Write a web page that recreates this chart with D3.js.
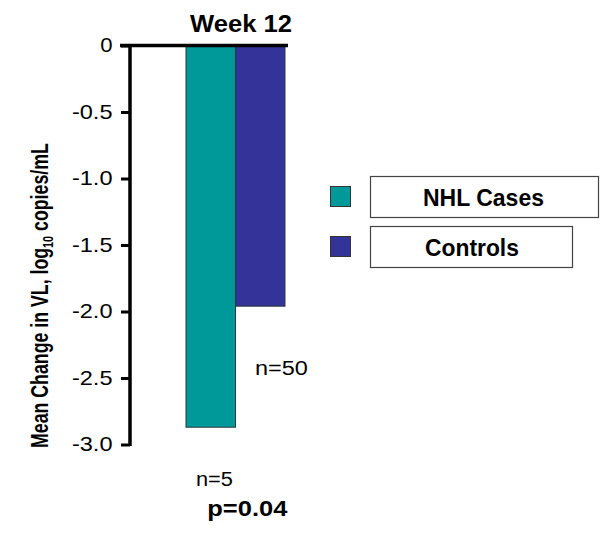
<!DOCTYPE html>
<html><head><meta charset="utf-8">
<script src="https://cdn.jsdelivr.net/npm/d3@7"></script>
<style>body{margin:0;background:#fff}svg{display:block;font-family:Arial,"Liberation Sans",sans-serif}</style>
</head><body><svg id="c" width="600" height="535"></svg>
<script>
const series = ["NHL Cases", "Controls"];
const values = [-2.87, -1.96];
const colors = ["#009999", "#333399"];
const nLabels = ["n=5", "n=50"];
const yTicks = [0, -0.5, -1.0, -1.5, -2.0, -2.5, -3.0];
const title = "Week 12";
const pValue = "p=0.04";

const svg = d3.select("#c");
const y = d3.scaleLinear().domain([0, -3]).range([45.5, 444.5]);
const x = d3.scaleBand().domain(series).range([186, 285]).padding(0);

// place text so that its box spans [x0, x0+w] horizontally (or along rotation)
function fitText(parent, str, opts) {
  const g = parent.append("g");
  const t = g.append("text").attr("x", 0).attr("y", 0)
    .attr("font-size", opts.size).attr("font-weight", opts.bold ? "bold" : "normal").attr("fill", "#000");
  if (opts.build) opts.build(t); else t.text(str);
  const bb = t.node().getBBox();
  const sx = opts.width ? opts.width / bb.width : 1;
  const rot = opts.rotate || 0;
  g.attr("transform", `translate(${opts.x},${opts.y}) rotate(${rot}) scale(${sx},1) translate(${-bb.x},0)`);
  return g;
}

// bars
svg.selectAll("rect.bar").data(series).join("rect").attr("class", "bar")
  .attr("x", d => x(d)).attr("width", x.bandwidth())
  .attr("y", y(0)).attr("height", (d,i) => y(values[i]) - y(0))
  .attr("fill", (d,i) => colors[i]).attr("stroke", "#2a3a3a").attr("stroke-width", 1);

// y axis
const axis = d3.axisLeft(y).tickValues(yTicks).tickSize(9).tickFormat(() => "");
const g = svg.append("g").attr("transform", "translate(130,0)").call(axis);
g.select(".domain").attr("stroke", "#000").attr("stroke-width", 3.5).attr("d", `M0,${y(0)}V${y(-3)+1.5}`);
g.selectAll(".tick line").attr("stroke", "#000").attr("stroke-width", 3);

// tick labels (right-aligned at x≈112)
const fmt = d => d === 0 ? "0" : d3.format(".1f")(d).replace("−", "-");
yTicks.forEach(v => {
  const s = fmt(v);
  const w = s === "0" ? 12.3 : 40.6;
  fitText(svg, s, { size: 20, x: 112.5 - w, y: y(v) + 6.5, width: w });
});

// top baseline
svg.append("line").attr("x1", 120).attr("x2", 288).attr("y1", y(0)).attr("y2", y(0))
  .attr("stroke", "#000").attr("stroke-width", 3.3);

// title
fitText(svg, title, { size: 24, bold: true, x: 190, y: 32.3, width: 102 });

// y label (rotated)
fitText(svg, null, {
  size: 23, bold: true, x: 48, y: 448, width: 305, rotate: -90,
  build: t => {
    t.append("tspan").text("Mean Change in VL, log");
    t.append("tspan").attr("font-size", 14).attr("dy", 5).text("10");
    t.append("tspan").attr("dy", -5).text(" copies/mL");
  }
});

// n labels
fitText(svg, nLabels[0], { size: 20, x: 196, y: 486, width: 37 });
fitText(svg, nLabels[1], { size: 21, x: 255, y: 375, width: 53 });

// p value
fitText(svg, pValue, { size: 22, bold: true, x: 207.3, y: 516, width: 81 });

// legend
const legBox = [{ x: 370.5, y: 176.5, w: 228, h: 41 }, { x: 370.5, y: 226.5, w: 202, h: 41 }];
const legText = [{ x: 423, y: 205.7, w: 121 }, { x: 425, y: 256, w: 94 }];
const legSq = [186, 236];
series.forEach((s, i) => {
  svg.append("rect").attr("x", 330.5).attr("y", legSq[i] + 0.5).attr("width", 20).attr("height", 20)
    .attr("fill", colors[i]).attr("stroke", "#333").attr("stroke-width", 1);
  svg.append("rect").attr("x", legBox[i].x).attr("y", legBox[i].y).attr("width", legBox[i].w).attr("height", legBox[i].h)
    .attr("fill", "#fff").attr("stroke", "#444").attr("stroke-width", 1.2);
  fitText(svg, s, { size: 24, bold: true, x: legText[i].x, y: legText[i].y, width: legText[i].w });
});
</script></body></html>
